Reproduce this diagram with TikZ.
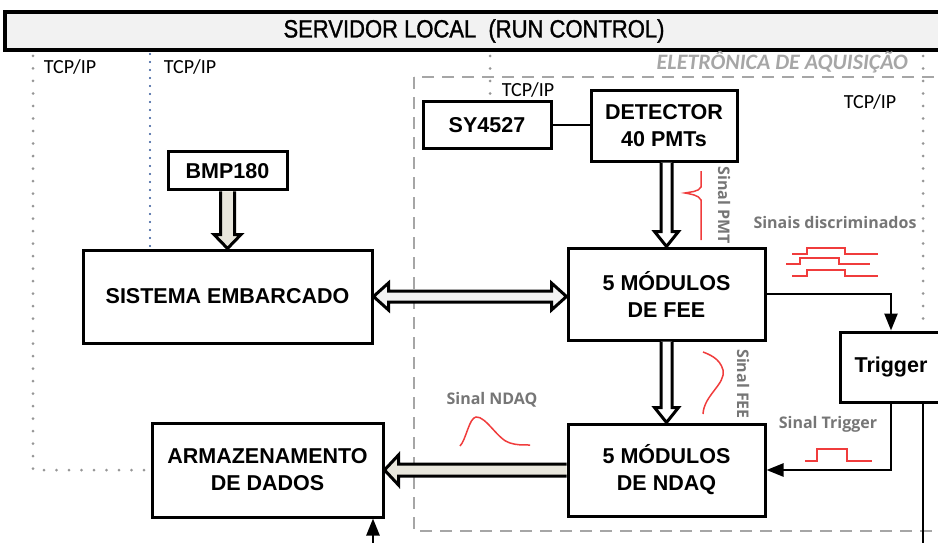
\documentclass[tikz,border=0pt]{standalone}
\usepackage{fontspec}
\setmainfont{Liberation Sans}
\newfontfamily\carlito{Carlito}
\newfontfamily\opensans{Open Sans}
\newfontfamily\narrowfont[FakeStretch=0.88,FakeBold=1.2]{Liberation Sans}
\usetikzlibrary{arrows.meta,calc}
\definecolor{cinzaclaro}{RGB}{242,242,242}
\definecolor{bege}{RGB}{232,230,220}
\definecolor{cinzatexto}{RGB}{118,118,118}
\definecolor{cinzamoldura}{RGB}{166,166,166}
\definecolor{cinzaponto}{RGB}{150,150,150}
\definecolor{azulponto}{RGB}{47,85,151}
\definecolor{vermelho}{RGB}{240,60,60}
\tikzstyle{bloco} = [rectangle,draw=black,line width=3pt,fill=white,text centered,align=center,inner sep=0pt,font=\fontsize{21.5}{27}\selectfont\bfseries]
\tikzstyle{barra} = [rectangle,draw=black,line width=4pt,fill=cinzaclaro,text centered,inner sep=0pt,font=\narrowfont\fontsize{25}{30}\selectfont]
\tikzstyle{tcp} = [inner sep=0pt,font=\carlito\fontsize{20}{24}\selectfont]
\tikzstyle{rotulo} = [inner sep=0pt,text=cinzatexto,font=\opensans\bfseries\fontsize{16}{19}\selectfont]
\tikzstyle{titulo} = [inner sep=0pt,text=cinzamoldura,font=\carlito\bfseries\itshape\fontsize{22}{26}\selectfont]
\tikzstyle{seta} = [line width=2.5pt,-{Triangle[length=17pt,width=13pt]}]
\tikzstyle{linha} = [line width=2.5pt]
\tikzstyle{pontilhado} = [cinzaponto,line width=3pt,line cap=round,dash pattern=on 0pt off 12.5pt]
\tikzstyle{pontoazul} = [azulponto,line width=2.2pt,line cap=round,dash pattern=on 0pt off 8pt]
\tikzstyle{moldura} = [cinzamoldura,line width=2.5pt,dash pattern=on 12pt off 8pt]
\tikzstyle{vazada} = [draw=black,line width=3pt,line join=miter]
\tikzstyle{sinal} = [vermelho,line width=1.5pt]

\begin{document}
\begin{tikzpicture}
\useasboundingbox (0,0) rectangle (938pt,-543pt);

% 1px = 1pt, y para baixo negativo

\node (servidor) [barra,minimum width=938pt,minimum height=38pt,xshift=474pt,yshift=-31pt] {SERVIDOR LOCAL\ \ (RUN CONTROL)};

\draw[moldura] (414pt,-77pt) rectangle (960pt,-531pt);
\node (eletr) [titulo,anchor=east,xshift=908pt,yshift=-62pt] {ELETRÔNICA DE AQUISIÇÃO};

\node (tcpa) [tcp,xshift=70pt,yshift=-67pt] {TCP/IP};
\node (tcpb) [tcp,xshift=190pt,yshift=-67pt] {TCP/IP};
\node (tcpc) [tcp,xshift=528pt,yshift=-90pt] {TCP/IP};
\node (tcpd) [tcp,xshift=870pt,yshift=-102pt] {TCP/IP};

\node (sy)   [bloco,minimum width=128pt,minimum height=46pt,xshift=487pt,yshift=-125pt] {SY4527};
\node (det)  [bloco,minimum width=146pt,minimum height=70pt,xshift=664pt,yshift=-126pt] {DETECTOR\\40 PMTs};
\node (sis)  [bloco,minimum width=289pt,minimum height=93pt,xshift=227.5pt,yshift=-296.5pt] {SISTEMA EMBARCADO};
\node (bmp)  [bloco,minimum width=119pt,minimum height=38pt,above of=sis,yshift=97.05pt] {BMP180};
\node (fee)  [bloco,minimum width=197pt,minimum height=92pt,xshift=666.5pt,yshift=-294pt] {5 MÓDULOS\\DE FEE};
\node (ndaq) [bloco,minimum width=197pt,minimum height=92pt,below of=fee,yshift=-147.55pt] {5 MÓDULOS\\DE NDAQ};
\node (arm)  [bloco,minimum width=231pt,minimum height=94pt,xshift=267.5pt,yshift=-470pt] {ARMAZENAMENTO\\DE DADOS};
\node (trg)  [bloco,minimum width=102pt,minimum height=70pt,xshift=891pt,yshift=-367pt] {Trigger};

\node (lpmt)  [rotulo,xshift=724pt,yshift=-205pt,rotate=-90] {Sinal PMT};
\node (ldisc) [rotulo,xshift=835pt,yshift=-222pt] {Sinais discriminados};
\node (lfee)  [rotulo,xshift=743pt,yshift=-384pt,rotate=-90] {Sinal FEE};
\node (lndaq) [rotulo,xshift=492pt,yshift=-400pt] {Sinal NDAQ};
\node (ltrg)  [rotulo,xshift=828pt,yshift=-424pt] {Sinal Trigger};

\coordinate (rede1) at (33pt,-56pt);
\coordinate (rede2) at (150pt,-54pt);
\coordinate (rede3) at (490pt,-56pt);
\coordinate (rede4) at (923pt,-56pt);
\coordinate (saida) at (923pt,-550pt);
\coordinate (entrada) at (373pt,-550pt);

\draw[pontilhado] (rede1) |- (arm.west);
\draw[pontoazul] (rede2) -- (rede2 |- sis.north);
\draw[pontilhado] (rede3) -- (rede3 |- sy.north);
\draw[pontilhado] (rede4) -- (rede4 |- trg.north);

\draw[linha] (sy.east) -- (sy.east -| det.west);
\draw[seta] (fee.east) -| (trg.north);
\draw[seta] (trg.south) |- (ndaq.east);
\draw[linha] (trg.south -| saida) -- (saida);
\draw[seta] (entrada) -- (entrada |- arm.south);

% setas largas
\draw[vazada,fill=white] ($(det.south -| fee.north)+(-5.5pt,0)$) -- ($(fee.north)+(-5.5pt,15pt)$) -- ($(fee.north)+(-12pt,15pt)$) -- (fee.north) -- ($(fee.north)+(12pt,15pt)$) -- ($(fee.north)+(5.5pt,15pt)$) -- ($(det.south -| fee.north)+(5.5pt,0)$);
\draw[vazada,fill=white] ($(fee.south)+(-5.5pt,0)$) -- ($(ndaq.north)+(-5.5pt,15pt)$) -- ($(ndaq.north)+(-12pt,15pt)$) -- (ndaq.north) -- ($(ndaq.north)+(12pt,15pt)$) -- ($(ndaq.north)+(5.5pt,15pt)$) -- ($(fee.south)+(5.5pt,0)$);
\draw[vazada,fill=bege] ($(bmp.south)+(-7pt,0)$) -- ($(sis.north)+(-7pt,14pt)$) -- ($(sis.north)+(-13.5pt,14pt)$) -- (sis.north) -- ($(sis.north)+(13.5pt,14pt)$) -- ($(sis.north)+(7pt,14pt)$) -- ($(bmp.south)+(7pt,0)$);
\draw[vazada,fill=bege] ($(ndaq.west)+(0,6pt)$) -- ($(arm.east)+(14pt,6pt)$) -- ($(arm.east)+(14pt,15pt)$) -- (arm.east) -- ($(arm.east)+(14pt,-15pt)$) -- ($(arm.east)+(14pt,-6pt)$) -- ($(ndaq.west)+(0,-6pt)$);
\draw[vazada,fill=cinzaclaro] (sis.east) -- ($(sis.east)+(15pt,13.5pt)$) -- ($(sis.east)+(15pt,5.5pt)$) -- ($(sis.east -| fee.west)+(-15pt,5.5pt)$) -- ($(sis.east -| fee.west)+(-15pt,13.5pt)$) -- (sis.east -| fee.west) -- ($(sis.east -| fee.west)+(-15pt,-13.5pt)$) -- ($(sis.east -| fee.west)+(-15pt,-5.5pt)$) -- ($(sis.east)+(15pt,-5.5pt)$) -- ($(sis.east)+(15pt,-13.5pt)$) -- cycle;

% sinais
\draw[sinal] (701pt,-171pt) -- (701pt,-187pt) .. controls (699pt,-192pt) and (689pt,-192pt) .. (685pt,-193pt) .. controls (690pt,-194pt) and (699pt,-195pt) .. (701pt,-200pt) -- (701pt,-240pt);
\draw[sinal] (792pt,-254pt) -- (807pt,-254pt) -- (807pt,-248pt) -- (845pt,-248pt) -- (845pt,-254pt) -- (878pt,-254pt);
\draw[sinal] (786pt,-264pt) -- (800pt,-264pt) -- (800pt,-258pt) -- (839pt,-258pt) -- (839pt,-264pt) -- (870pt,-264pt);
\draw[sinal] (792pt,-276pt) -- (807pt,-276pt) -- (807pt,-270pt) -- (845pt,-270pt) -- (845pt,-276pt) -- (878pt,-276pt);
\draw[sinal] (703pt,-352pt) .. controls (708pt,-354pt) and (720pt,-358pt) .. (723pt,-370pt) .. controls (726pt,-384pt) and (704pt,-395pt) .. (703pt,-414pt);
\draw[sinal] (460pt,-446pt) .. controls (466pt,-440pt) and (469pt,-418pt) .. (476pt,-417pt) .. controls (486pt,-416pt) and (498pt,-440pt) .. (510pt,-443pt) .. controls (516pt,-445pt) and (522pt,-445pt) .. (530pt,-445pt);
\draw[sinal] (805pt,-461pt) -- (817pt,-461pt) -- (817pt,-449pt) -- (847pt,-449pt) -- (847pt,-461pt) -- (872pt,-461pt);

\end{tikzpicture}
\end{document}
